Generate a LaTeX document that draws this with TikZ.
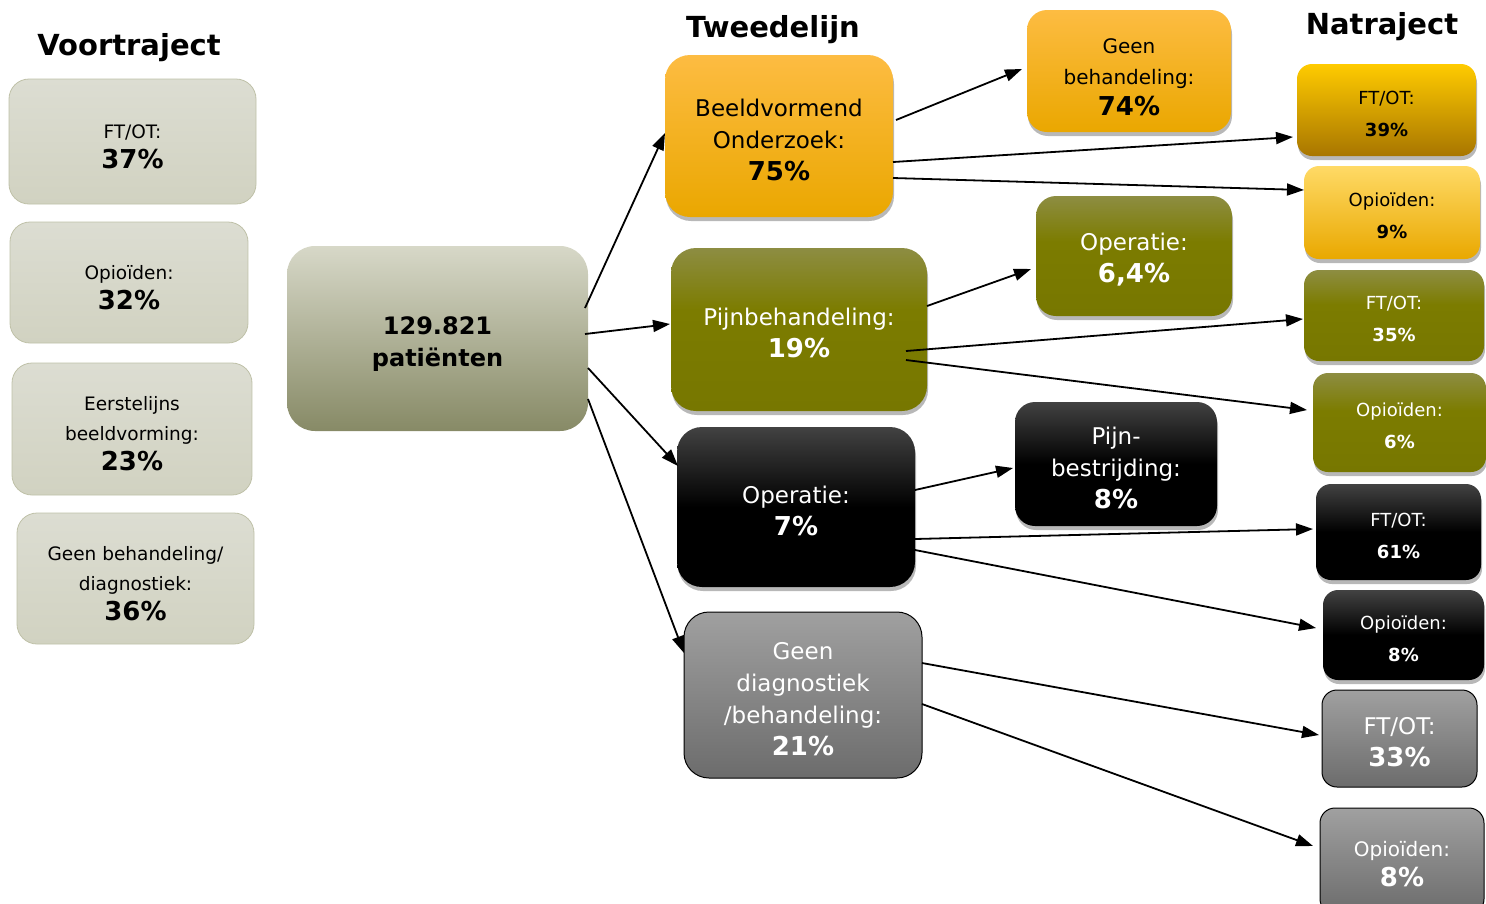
\documentclass[tikz,border=0pt]{standalone}
\usepackage{fontspec}
\setmainfont{DejaVu Sans}
\usetikzlibrary{arrows.meta,calc,shadows}
\newcommand\myfs[2]{\fontsize{#1}{#2}\selectfont}
\newcommand\up[1]{\rule{0pt}{\dimexpr0.76em+#1\relax}}
\newcommand\pct[1]{\textbf{\myfs{26}{31}#1}}
\definecolor{lgTop}{HTML}{DCDDD2}
\definecolor{lgBot}{HTML}{D1D2C1}
\definecolor{lgLine}{HTML}{BFC1A8}
\definecolor{cTop}{HTML}{D7D8C8}
\definecolor{cBot}{HTML}{878A66}
\definecolor{orTop}{HTML}{FDBC42}
\definecolor{orMid}{HTML}{F8B400}
\definecolor{orBot}{HTML}{EAA700}
\definecolor{r1Top}{HTML}{FFCB00}
\definecolor{r1Mid}{HTML}{E2A700}
\definecolor{r1Bot}{HTML}{A87600}
\definecolor{r2Top}{HTML}{FFDA66}
\definecolor{r2Mid}{HTML}{FFC30F}
\definecolor{r2Bot}{HTML}{E9A800}
\definecolor{olTop}{HTML}{8D8D42}
\definecolor{olMid}{HTML}{7C7C00}
\definecolor{olBot}{HTML}{777700}
\definecolor{bkTop}{HTML}{424242}
\definecolor{gyTop}{HTML}{A0A0A0}
\definecolor{gyBot}{HTML}{6C6C6C}
\pgfdeclareverticalshading{blackshade}{100bp}{color(0bp)=(black); color(50bp)=(black); color(75bp)=(bkTop); color(100bp)=(bkTop)}
\pgfdeclareverticalshading{oliveshade}{100bp}{color(0bp)=(olBot); color(25bp)=(olBot); color(56bp)=(olMid); color(75bp)=(olTop); color(100bp)=(olTop)}
\tikzset{
  x=1pt, y=-1pt,
  base/.style={rectangle, rounded corners=#1, align=center, inner sep=0pt, outer sep=0pt},
  base/.default=18pt,
  shad/.style={drop shadow={shadow xshift=1pt, shadow yshift=-4pt, opacity=0.28, fill=black}},
  leftbox/.style={base=20pt, draw=lgLine, line width=0.8pt, top color=lgTop, bottom color=lgBot, font=\myfs{18.5}{30}},
  centerbox/.style={base=28pt, top color=cTop, bottom color=cBot, font=\bfseries\myfs{24}{32}},
  orange/.style={base=#1, shad, top color=orTop, middle color=orMid, bottom color=orBot, text=black},
  olive/.style={base=#1, shad, shade, shading=oliveshade, text=white},
  blackbox/.style={base=#1, shad, shade, shading=blackshade, text=white},
  graybox/.style={base=#1, draw=black, line width=1pt, top color=gyTop, bottom color=gyBot, text=white},
  r1box/.style={base=15pt, shad, top color=r1Top, middle color=r1Mid, bottom color=r1Bot, text=black},
  r2box/.style={base=15pt, shad, top color=r2Top, middle color=r2Mid, bottom color=r2Bot, text=black},
  title/.style={font=\bfseries\myfs{29}{29}, inner sep=0pt},
  arr/.style={line width=1.8pt, -{Triangle[length=17pt,width=12pt]}}
}
\begin{document}
\begin{tikzpicture}
\useasboundingbox (0,0) rectangle (1486,903);

% titles
\node[title] (tv) at (129,48) {Voortraject};
\node[title] (tt) at (773,30) {Tweedelijn};
\node[title] (tn) at (1382,27) {Natraject};

% left column
\node[leftbox, minimum width=247pt, minimum height=125pt] (L1) at (132.5,141.5) {\up{10pt}FT/OT:\\\pct{37\%}};
\node[leftbox, minimum width=238pt, minimum height=121pt] (L2) at (129,282.5) {\up{10pt}Opioïden:\\\pct{32\%}};
\node[leftbox, minimum width=240pt, minimum height=132pt] (L3) at (132,429) {\up{10pt}Eerstelijns\\beeldvorming:\\\pct{23\%}};
\node[leftbox, minimum width=237pt, minimum height=131pt] (L4) at (135.5,578.5) {\up{10pt}Geen behandeling/\\diagnostiek:\\\pct{36\%}};

% center
\node[centerbox, minimum width=301pt, minimum height=185pt] (C) at (437.5,338.5) {\up{10pt}129.821\\patiënten};

% tweedelijn
\node[orange=25pt, minimum width=228pt, minimum height=162pt, font=\myfs{23}{32}] (B1) at (779,136) {\up{7pt}Beeldvormend\\Onderzoek:\\\pct{75\%}};
\node[olive=25pt, minimum width=256pt, minimum height=163pt, font=\myfs{23}{32}] (B2) at (799,329.5) {\up{7pt}Pijnbehandeling:\\\pct{19\%}};
\node[blackbox=25pt, minimum width=238pt, minimum height=160pt, font=\myfs{23}{32}] (B3) at (796,507) {\up{7pt}Operatie:\\\pct{7\%}};
\node[graybox=25pt, minimum width=238pt, minimum height=166pt, font=\myfs{23}{32}] (B4) at (803,695) {\up{7pt}Geen\\diagnostiek\\/behandeling:\\\pct{21\%}};

% middle column
\node[orange=20pt, minimum width=204pt, minimum height=122pt, font=\myfs{20}{31}] (M1) at (1129,71) {\up{12pt}Geen\\behandeling:\\\pct{74\%}};
\node[olive=20pt, minimum width=196pt, minimum height=120pt, font=\myfs{23}{32}] (M2) at (1134,256) {\up{7pt}Operatie:\\\pct{6,4\%}};
\node[blackbox=20pt, minimum width=202pt, minimum height=124pt, font=\myfs{23}{32}] (M3) at (1116,464) {\up{7pt}Pijn-\\bestrijding:\\\pct{8\%}};

% natraject
\node[r1box, minimum width=179pt, minimum height=92pt, font=\myfs{18}{32}] (R1) at (1386.5,110) {\up{7pt}FT/OT:\\\textbf{39\%}};
\node[r2box, minimum width=176pt, minimum height=93pt, font=\myfs{18}{32}] (R2) at (1392,212.5) {\up{7pt}Opioïden:\\\textbf{9\%}};
\node[olive=15pt, minimum width=180pt, minimum height=91pt, font=\myfs{18}{32}] (R3) at (1394,315.5) {\up{7pt}FT/OT:\\\textbf{35\%}};
\node[olive=15pt, minimum width=173pt, minimum height=99pt, font=\myfs{18}{32}] (R4) at (1399.5,422.5) {\up{7pt}Opioïden:\\\textbf{6\%}};
\node[blackbox=15pt, minimum width=165pt, minimum height=96pt, font=\myfs{18}{32}] (R5) at (1398.5,532) {\up{7pt}FT/OT:\\\textbf{61\%}};
\node[blackbox=15pt, minimum width=161pt, minimum height=90pt, font=\myfs{18}{32}] (R6) at (1403.5,635) {\up{7pt}Opioïden:\\\textbf{8\%}};
\node[graybox=15pt, minimum width=155pt, minimum height=97pt, font=\myfs{23}{32}] (R7) at (1399.5,738.5) {\up{7pt}FT/OT:\\\pct{33\%}};
\node[graybox=15pt, minimum width=164pt, minimum height=106pt, font=\myfs{20}{30}] (R8) at (1402,861) {\up{7pt}Opioïden:\\\pct{8\%}};

% connectors
\draw[arr] ($(C.north west)+(298,62)$) -- ($(B1.north west)+(0,78)$);
\draw[arr] ($(C.north west)+(298,88)$) -- ($(B2.north west)+(-1,76)$);
\draw[arr] ($(C.north west)+(301,122)$) -- ($(B3.north west)+(1,39)$);
\draw[arr] ($(C.north west)+(301,153)$) -- ($(B4.north west)+(0,41)$);

\draw[arr] ($(B1.north west)+(231,65)$) -- ($(M1.north west)+(-5,59)$);
\draw[arr] ($(B1.north west)+(228,107)$) -- ($(R1.north west)+(-4,73)$);
\draw[arr] ($(B1.north west)+(228,123)$) -- ($(R2.north west)+(0,24)$);

\draw[arr] ($(B2.north west)+(256,58)$) -- ($(M2.north west)+(-5,73)$);
\draw[arr] ($(B2.north west)+(235,103)$) -- ($(R3.north west)+(-1,49)$);
\draw[arr] ($(B2.north west)+(235,112)$) -- ($(R4.north west)+(-6,37)$);

\draw[arr] ($(B3.north west)+(238,63)$) -- ($(M3.north west)+(-2,66)$);
\draw[arr] ($(B3.north west)+(238,112)$) -- ($(R5.north west)+(-3,45)$);
\draw[arr] ($(B3.north west)+(238,123)$) -- ($(R6.north west)+(-7,38)$);

\draw[arr] ($(B4.north west)+(238,51)$) -- ($(R7.north west)+(-3,45)$);
\draw[arr] ($(B4.north west)+(238,92)$) -- ($(R8.north west)+(-7,38)$);
\end{tikzpicture}
\end{document}
